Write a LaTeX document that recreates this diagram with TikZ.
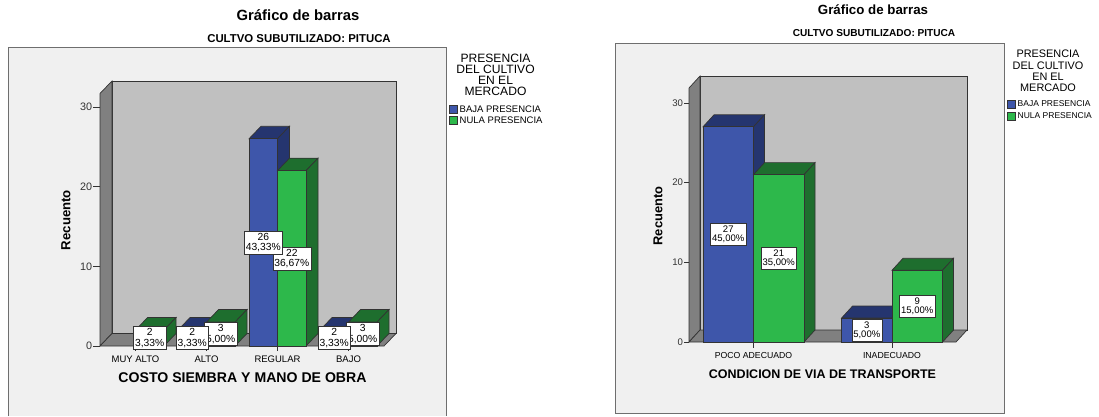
\documentclass[tikz,border=0pt]{standalone}
\usepackage{fontspec}
\setmainfont{Liberation Sans}
\usepackage{xcolor}
\usepackage{tikz}

\definecolor{panelgray}{HTML}{F0F0F0}
\definecolor{framegray}{HTML}{6E6E6E}
\definecolor{wallgray}{HTML}{C0C0C0}
\definecolor{sidegray}{HTML}{808080}
\definecolor{edgegray}{HTML}{333333}
\definecolor{barblue}{HTML}{3E56AA}
\definecolor{barbluedark}{HTML}{25356F}
\definecolor{bargreen}{HTML}{2DB84B}
\definecolor{bargreendark}{HTML}{1E6E2E}

\begin{document}
\begin{tikzpicture}[x=1pt,y=-1pt,
    panel/.style={fill=panelgray, draw=framegray, line width=0.9pt},
    wall/.style={draw=edgegray, line width=0.7pt},
    barline/.style={draw=edgegray, line width=0.7pt},
    valboxL/.style={draw=edgegray, fill=white, align=center, inner xsep=1.5pt, inner ysep=2pt, font=\fontsize{10.3}{10.5}\selectfont},
    valboxR/.style={draw=edgegray, fill=white, align=center, inner xsep=1.5pt, inner ysep=2.5pt, font=\fontsize{9.5}{9.5}\selectfont}]
    \useasboundingbox (0,0) rectangle (1099,416);
    \fill[white] (0,0) rectangle (1099,416);

    % ---------- Left chart ----------
    \fill[panelgray] (8,47) rectangle (446,416);
    \draw[framegray, line width=0.9pt] (8,416) -- (8,47) -- (446,47) -- (446,416);
    \node (titleL) at (298,15) {\fontsize{14.8}{16}\selectfont\bfseries Gráfico de barras};
    \node (subL) at (299,39) {\fontsize{11.4}{12}\selectfont\bfseries CULTVO SUBUTILIZADO: PITUCA};
    % Back wall, side wall and floor
    \filldraw[fill=wallgray, wall] (112,81) rectangle (396,333.5);
    \filldraw[fill=sidegray, wall] (100,93.5) -- (112,81) -- (112,333.5) -- (100,346) -- cycle;
    \filldraw[fill=sidegray, wall] (100,346) -- (112,333.5) -- (396,333.5) -- (384,346) -- cycle;
    % Count axis
    \foreach \v in {0,10,20,30} {
        \draw[edgegray, line width=0.7pt] (100,{346-\v*7.97}) -- ++(-7,0)
            node[left, inner sep=0.6pt, font=\fontsize{10.8}{11}\selectfont] (ytL\v) {\v};
    }
    \node[rotate=90] (yaxL) at (66,220) {\fontsize{13.2}{14}\selectfont\bfseries Recuento};
    % Categories
    \foreach \cx/\name [count=\i] in {135.5/MUY ALTO, 206.5/ALTO, 277.5/REGULAR, 348.5/BAJO} {
        \draw[edgegray, line width=0.7pt] (\cx,346) -- (\cx,351);
        \node (catL\i) at (\cx,359) {\fontsize{9.5}{10}\selectfont \name};
    }
    \node (xaxL) at (242.5,378) {\fontsize{14.1}{15}\selectfont\bfseries COSTO SIEMBRA Y MANO DE OBRA};
    % Bars: left edge / count / front colour / shade colour
    \foreach \x/\v/\fc/\dc in {135.5/2/bargreen/bargreendark, 178/2/barblue/barbluedark,
        206.5/3/bargreen/bargreendark, 249/26/barblue/barbluedark, 277.5/22/bargreen/bargreendark,
        320/2/barblue/barbluedark, 348.5/3/bargreen/bargreendark} {
        \pgfmathsetmacro\ytop{346-\v*7.97}
        \pgfmathsetmacro\hgt{\v*7.97}
        % top face
        \filldraw[fill=\dc, barline] (\x,\ytop) -- ++(12,-12.5) -- ++(28.5,0) -- ++(-12,12.5) -- cycle;
        % side face
        \filldraw[fill=\dc, barline] (\x+28.5,\ytop) -- ++(12,-12.5) -- ++(0,\hgt) -- ++(-12,12.5) -- cycle;
        % front face
        \filldraw[fill=\fc, barline] (\x,\ytop) rectangle ++(28.5,\hgt);
    }
    % Value labels, green first
    \foreach \x/\v/\p [count=\i] in {135.5/2/{3,33}, 206.5/3/{5,00}, 277.5/22/{36,67}, 348.5/3/{5,00},
        178/2/{3,33}, 249/26/{43,33}, 320/2/{3,33}} {
        \node[valboxL] (valL\i) at (\x+14.25,{346-\v*3.985}) {\v\\\p\%};
    }
    % Legend
    \node[anchor=north, inner sep=0pt, align=center, font=\fontsize{12.1}{11}\selectfont] (legtitleL) at (495.5,54)
        {PRESENCIA\\DEL CULTIVO\\EN EL\\MERCADO};
    \filldraw[fill=barblue, barline] (449,105) rectangle (457,113);
    \filldraw[fill=bargreen, barline] (449,116) rectangle (457,124);
    \node[anchor=west, inner sep=0.5pt, font=\fontsize{9.5}{10}\selectfont] (legbL) at (459,109) {BAJA PRESENCIA};
    \node[anchor=west, inner sep=0.5pt, font=\fontsize{9.5}{10}\selectfont] (leggL) at (459,120) {NULA PRESENCIA};

    % ---------- Right chart ----------
    \filldraw[panel] (615,43) rectangle (1004,413);
    \node (titleR) at (873,10) {\fontsize{13.3}{14}\selectfont\bfseries Gráfico de barras};
    \node (subR) at (874,33.5) {\fontsize{10.1}{11}\selectfont\bfseries CULTVO SUBUTILIZADO: PITUCA};
    % Back wall, side wall and floor
    \filldraw[fill=wallgray, wall] (700,76) rectangle (967,330);
    \filldraw[fill=sidegray, wall] (689,88) -- (700,76) -- (700,330) -- (689,342) -- cycle;
    \filldraw[fill=sidegray, wall] (689,342) -- (700,330) -- (967,330) -- (956,342) -- cycle;
    % Count axis
    \foreach \v in {0,10,20,30} {
        \draw[edgegray, line width=0.7pt] (689,{342-\v*7.97}) -- ++(-5,0)
            node[left, inner sep=0.6pt, font=\fontsize{9.6}{10}\selectfont] (ytR\v) {\v};
    }
    \node[rotate=90] (yaxR) at (658,216) {\fontsize{12.9}{14}\selectfont\bfseries Recuento};
    % Categories
    \foreach \cx/\name [count=\i] in {753.5/POCO ADECUADO, 892/INADECUADO} {
        \draw[edgegray, line width=0.7pt] (\cx,342) -- (\cx,348);
        \node (catR\i) at (\cx,355) {\fontsize{8.7}{9}\selectfont \name};
    }
    \node (xaxR) at (822.5,374) {\fontsize{12.5}{13}\selectfont\bfseries CONDICION DE VIA DE TRANSPORTE};
    % Bars
    \foreach \x/\v/\fc/\dc in {703/27/barblue/barbluedark, 753.5/21/bargreen/bargreendark,
        841.5/3/barblue/barbluedark, 892/9/bargreen/bargreendark} {
        \pgfmathsetmacro\ytop{342-\v*7.97}
        \pgfmathsetmacro\hgt{\v*7.97}
        % top face
        \filldraw[fill=\dc, barline] (\x,\ytop) -- ++(11,-12) -- ++(50.5,0) -- ++(-11,12) -- cycle;
        % side face
        \filldraw[fill=\dc, barline] (\x+50.5,\ytop) -- ++(11,-12) -- ++(0,\hgt) -- ++(-11,12) -- cycle;
        % front face
        \filldraw[fill=\fc, barline] (\x,\ytop) rectangle ++(50.5,\hgt);
    }
    % Value labels, green first
    \foreach \x/\v/\p [count=\i] in {753.5/21/{35,00}, 892/9/{15,00}, 703/27/{45,00}, 841.5/3/{5,00}} {
        \node[valboxR] (valR\i) at (\x+25.25,{342-\v*3.985}) {\v\\\p\%};
    }
    % Legend
    \node[anchor=north, inner sep=0pt, align=center, font=\fontsize{10.9}{11.3}\selectfont] (legtitleR) at (1048,50)
        {PRESENCIA\\DEL CULTIVO\\EN EL\\MERCADO};
    \filldraw[fill=barblue, barline] (1007,100) rectangle (1015,108);
    \filldraw[fill=bargreen, barline] (1007,112) rectangle (1015,120);
    \node[anchor=west, inner sep=0.5pt, font=\fontsize{8.5}{9}\selectfont] (legbR) at (1017,104) {BAJA PRESENCIA};
    \node[anchor=west, inner sep=0.5pt, font=\fontsize{8.5}{9}\selectfont] (leggR) at (1017,116) {NULA PRESENCIA};
\end{tikzpicture}
\end{document}
